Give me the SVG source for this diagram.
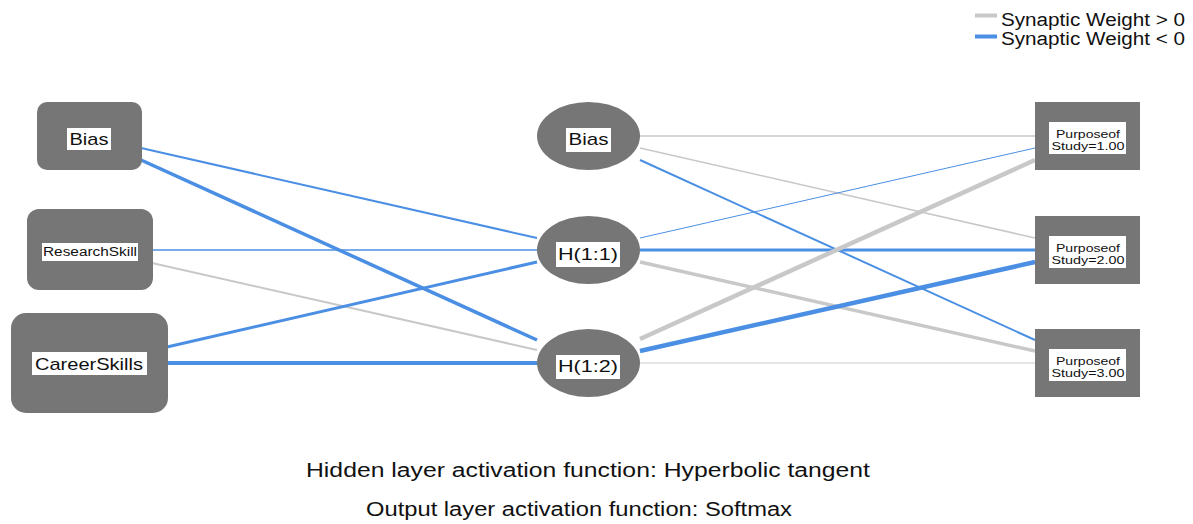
<svg xmlns="http://www.w3.org/2000/svg" width="1193" height="524" viewBox="0 0 1193 524">
<style>
  .node { fill: #767676; }
  .lblbox { fill: #ffffff; }
  .lbl { font-family: "Liberation Sans", Arial, sans-serif; fill: #111; text-anchor: middle; }
  .pos { stroke: #c8c8c8; fill: none; }
  .neg { stroke: #4a8fe3; fill: none; }
  .cap { font-family: "Liberation Sans", Arial, sans-serif; fill: #111; font-size: 19.5px; }
  .leg { font-family: "Liberation Sans", Arial, sans-serif; fill: #111; font-size: 18px; }
</style>
<rect x="0" y="0" width="1193" height="524" fill="#ffffff"/>

<g id="legend">
  <line x1="975" y1="15.5" x2="997" y2="15.5" stroke="#c8c8c8" stroke-width="4"/>
  <text class="leg" x="1001" y="25.5" textLength="184" lengthAdjust="spacingAndGlyphs">Synaptic Weight &gt; 0</text>
  <line x1="975" y1="36.5" x2="997" y2="36.5" stroke="#4a8fe3" stroke-width="4"/>
  <text class="leg" x="1001" y="44.5" textLength="184" lengthAdjust="spacingAndGlyphs">Synaptic Weight &lt; 0</text>
</g>

<g id="connectors">
  <!-- input to hidden -->
  <line class="neg" x1="141" y1="148" x2="537" y2="238" stroke-width="2"/>
  <line class="neg" x1="141" y1="160" x2="537" y2="340" stroke-width="3.5"/>
  <line class="neg" x1="152" y1="250" x2="537" y2="250" stroke-width="1.5"/>
  <line class="pos" x1="152" y1="263" x2="537" y2="350" stroke-width="2"/>
  <line class="neg" x1="167" y1="347" x2="537" y2="262" stroke-width="3"/>
  <line class="neg" x1="167" y1="363" x2="537" y2="363" stroke-width="4"/>
  <!-- hidden to output -->
  <line class="pos" x1="640" y1="136" x2="1035" y2="136" stroke-width="1.5"/>
  <line class="pos" x1="640" y1="148" x2="1035" y2="238" stroke-width="1.5"/>
  <line class="neg" x1="640" y1="160" x2="1035" y2="340" stroke-width="2"/>
  <line class="neg" x1="640" y1="238" x2="1035" y2="148" stroke-width="1"/>
  <line class="neg" x1="640" y1="250" x2="1035" y2="250" stroke-width="3"/>
  <line class="pos" x1="640" y1="262" x2="1035" y2="351" stroke-width="3.5"/>
  <line class="pos" x1="640" y1="339" x2="1035" y2="160" stroke-width="4.5"/>
  <line class="neg" x1="640" y1="351" x2="1035" y2="262" stroke-width="4.5"/>
  <line x1="640" y1="363" x2="1035" y2="363" stroke="#dcdcdc" stroke-width="1.5"/>
</g>

<g id="in-bias">
  <rect class="node" x="37" y="102" width="105" height="68" rx="10"/>
  <rect class="lblbox" x="67" y="128" width="44" height="22"/>
  <text class="lbl" x="89" y="145" font-size="17" textLength="39" lengthAdjust="spacingAndGlyphs">Bias</text>
</g>
<g id="in-research">
  <rect class="node" x="27" y="209" width="126" height="81" rx="12"/>
  <rect class="lblbox" x="42" y="243" width="96" height="18"/>
  <text class="lbl" x="90" y="256" font-size="12.5" textLength="94" lengthAdjust="spacingAndGlyphs" fill="#333">ResearchSkill</text>
</g>
<g id="in-career">
  <rect class="node" x="11" y="313" width="157" height="100" rx="15"/>
  <rect class="lblbox" x="32" y="352" width="115" height="23"/>
  <text class="lbl" x="89" y="370" font-size="17" textLength="108" lengthAdjust="spacingAndGlyphs">CareerSkills</text>
</g>

<g id="hid-bias">
  <ellipse class="node" cx="588.5" cy="136" rx="51.5" ry="34"/>
  <rect class="lblbox" x="566" y="128" width="45" height="24"/>
  <text class="lbl" x="588.5" y="145" font-size="17" textLength="40" lengthAdjust="spacingAndGlyphs">Bias</text>
</g>
<g id="hid-h11">
  <ellipse class="node" cx="588.5" cy="250" rx="51.5" ry="34"/>
  <rect class="lblbox" x="556" y="242" width="64" height="25"/>
  <text class="lbl" x="588" y="260" font-size="16.5" textLength="60" lengthAdjust="spacingAndGlyphs">H(1:1)</text>
</g>
<g id="hid-h12">
  <ellipse class="node" cx="588.5" cy="363" rx="51.5" ry="34"/>
  <rect class="lblbox" x="556" y="355" width="64" height="24"/>
  <text class="lbl" x="588" y="372" font-size="16.5" textLength="60" lengthAdjust="spacingAndGlyphs">H(1:2)</text>
</g>

<g id="out-1">
  <rect class="node" x="1035" y="102" width="105" height="68"/>
  <rect class="lblbox" x="1049" y="122" width="77" height="32"/>
  <text class="lbl" x="1088" y="137.5" font-size="11" textLength="64" lengthAdjust="spacingAndGlyphs" fill="#333">Purposeof</text>
  <text class="lbl" x="1088" y="150" font-size="11" textLength="73" lengthAdjust="spacingAndGlyphs" fill="#333">Study=1.00</text>
</g>
<g id="out-2">
  <rect class="node" x="1035" y="216" width="105" height="68"/>
  <rect class="lblbox" x="1049" y="236" width="77" height="32"/>
  <text class="lbl" x="1088" y="251.5" font-size="11" textLength="64" lengthAdjust="spacingAndGlyphs" fill="#333">Purposeof</text>
  <text class="lbl" x="1088" y="264" font-size="11" textLength="73" lengthAdjust="spacingAndGlyphs" fill="#333">Study=2.00</text>
</g>
<g id="out-3">
  <rect class="node" x="1035" y="329" width="105" height="68"/>
  <rect class="lblbox" x="1049" y="349" width="77" height="32"/>
  <text class="lbl" x="1088" y="364.5" font-size="11" textLength="64" lengthAdjust="spacingAndGlyphs" fill="#333">Purposeof</text>
  <text class="lbl" x="1088" y="377" font-size="11" textLength="73" lengthAdjust="spacingAndGlyphs" fill="#333">Study=3.00</text>
</g>

<g id="captions">
  <text class="cap" x="306" y="477" textLength="564" lengthAdjust="spacingAndGlyphs">Hidden layer activation function: Hyperbolic tangent</text>
  <text class="cap" x="366" y="516" textLength="426" lengthAdjust="spacingAndGlyphs">Output layer activation function: Softmax</text>
</g>
</svg>
